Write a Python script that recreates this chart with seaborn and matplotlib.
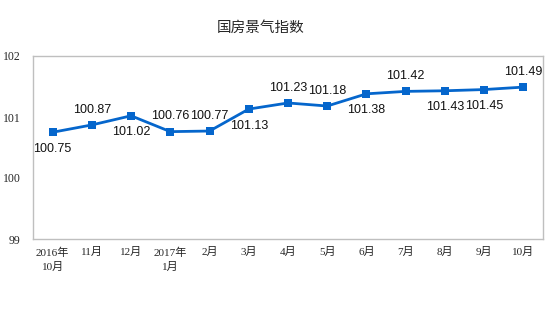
import matplotlib
matplotlib.use("Agg")
import matplotlib.pyplot as plt
import seaborn as sns
import pandas as pd

months = ["2016年\n10月", "11月", "12月", "2017年\n1月", "2月", "3月", "4月",
          "5月", "6月", "7月", "8月", "9月", "10月"]
index_values = [100.75, 100.87, 101.02, 100.76, 100.77, 101.13, 101.23,
                101.18, 101.38, 101.42, 101.43, 101.45, 101.49]
label_side = ["below", "above", "below", "above", "above", "below", "above",
              "above", "below", "above", "below", "below", "above"]
y_ticks = [99, 100, 101, 102]

sns.set_theme(style="white")
plt.rcParams["font.family"] = ["Liberation Serif", "Noto Sans CJK SC", "DejaVu Sans"]

df = pd.DataFrame({"pos": range(len(months)), "value": index_values})

fig = plt.figure(figsize=(5.54, 3.31), dpi=100)
ax = fig.add_axes([33 / 554, (331 - 239) / 331, 510 / 554, 183 / 331])

line_color = "#0566CC"
sns.lineplot(data=df, x="pos", y="value", ax=ax, color=line_color, linewidth=2,
             marker="s", markersize=5.5, markeredgewidth=0, markerfacecolor=line_color)

for i, (v, side) in enumerate(zip(index_values, label_side)):
    dy = 11 if side == "above" else -12
    ax.annotate(f"{v:.2f}", (i, v), xytext=(0, dy), textcoords="offset points",
                ha="center", va="center", fontsize=9,
                family=["Liberation Sans", "DejaVu Sans"], color="#111111")

ax.set_xlim(-0.5, len(months) - 0.5)
ax.set_ylim(99, 102)
ax.set_yticks(y_ticks)
ax.set_yticklabels([str(t) for t in y_ticks], fontsize=8.5)
ax.set_xticks(range(len(months)))
ax.set_xticklabels(months, fontsize=8, linespacing=1.5)
ax.set_xlabel("")
ax.set_ylabel("")

# category boundary ticks along the bottom edge
ax.set_xticks([i + 0.5 for i in range(len(months) - 1)], minor=True)
ax.tick_params(axis="x", which="major", length=0, pad=6)
ax.tick_params(axis="x", which="minor", direction="in", length=3, color="#BFBFBF", width=1)
ax.tick_params(axis="y", length=0, pad=9)

for s in ax.spines.values():
    s.set_color("#BFBFBF")
    s.set_linewidth(1)

fig.text(0.47, 1 - 28 / 331, "国房景气指数", ha="center", va="center",
         fontsize=10.5, family=["Noto Sans CJK SC"])

fig.savefig("out.png", dpi=100)
